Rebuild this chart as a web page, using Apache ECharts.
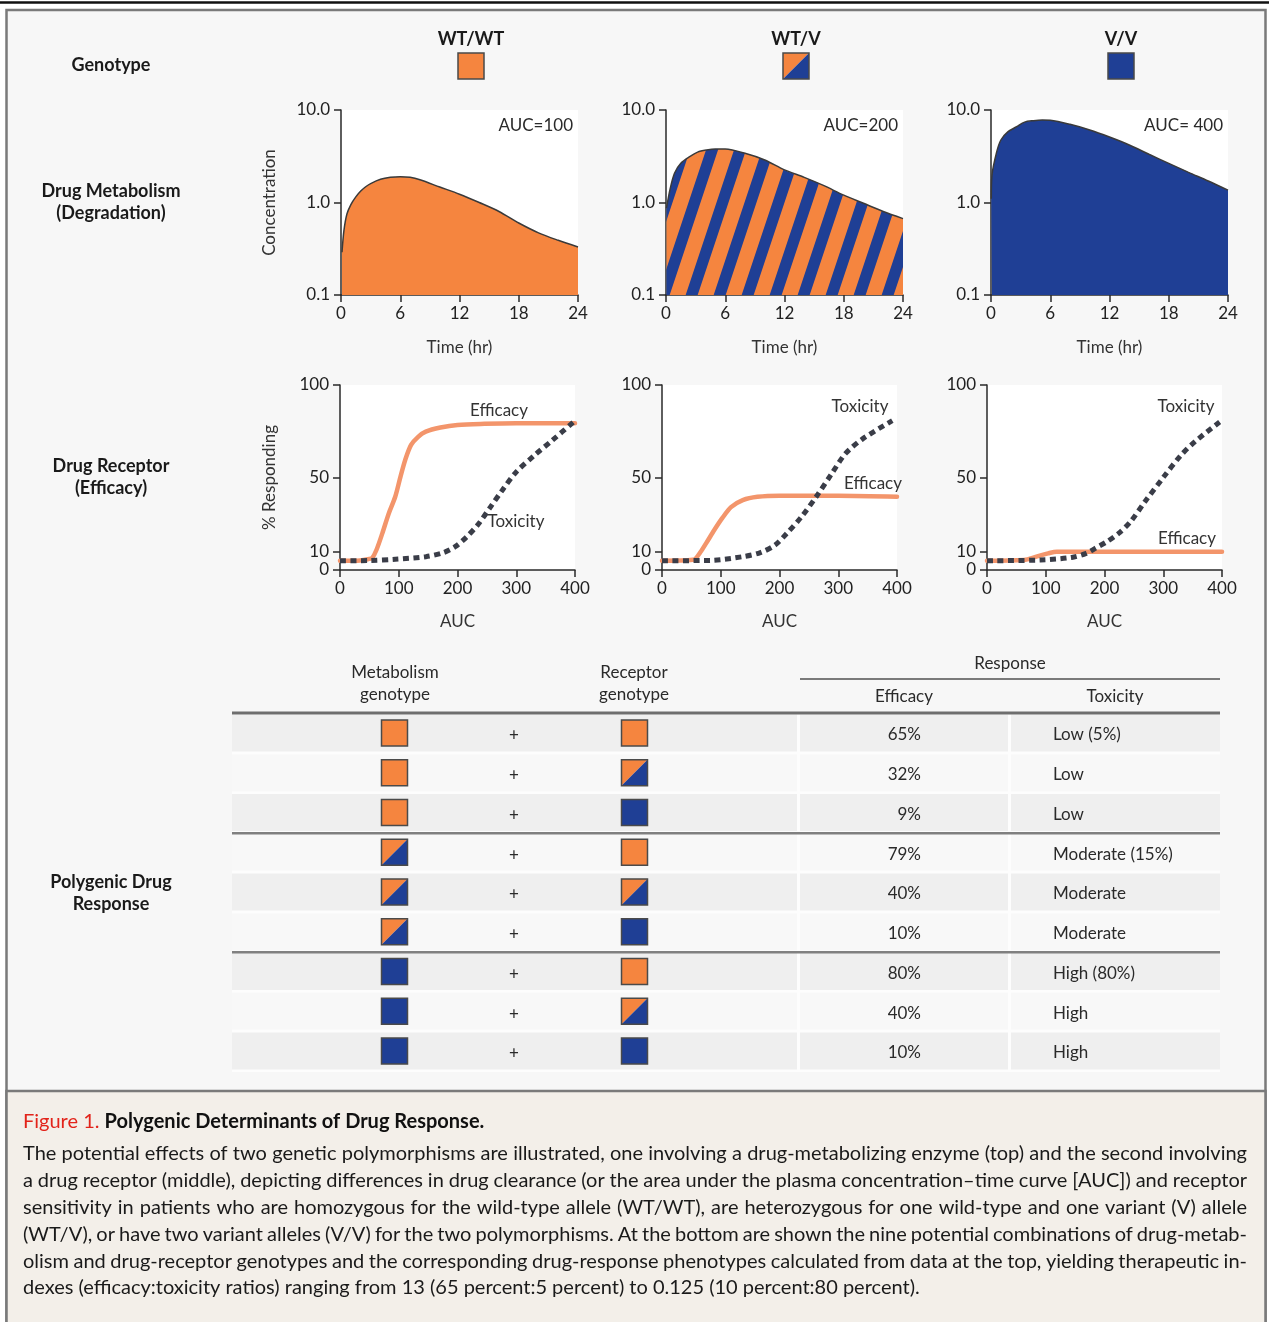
<!DOCTYPE html>
<html><head><meta charset="utf-8">
<script src="https://cdn.jsdelivr.net/npm/echarts@6/dist/echarts.min.js"></script>
<style>html,body{margin:0;padding:0;background:#fff}#c{width:1269px;height:1322px}</style>
</head><body><div id="c"></div>
<script>
// ---------------- DATA ----------------
const genotypes = ['WT/WT', 'WT/V', 'V/V'];
const aucLabels = ['AUC=100', 'AUC=200', 'AUC= 400'];
const rowLabels = ['Genotype', 'Drug Metabolism\n(Degradation)', 'Drug Receptor\n(Efficacy)', 'Polygenic Drug\nResponse'];
const timeTicks = [0, 6, 12, 18, 24];
const aucTicks = [0, 100, 200, 300, 400];
const respTicks = [0, 10, 50, 100];

// concentration vs time (hr), log scale
const concWTWT = [[0.1,0.29],[0.3,0.5],[0.6,0.75],[1,0.95],[1.5,1.15],[2,1.33],[2.5,1.48],[3,1.6],[4,1.78],[5,1.87],[6,1.9],[7,1.87],[8,1.76],[10,1.47],[12,1.23],[14,1.0],[16,0.8],[18,0.6],[20,0.47],[22,0.39],[24,0.33]];
const concWTV  = [[0.05,0.87],[0.43,1.42],[0.86,2.07],[1.5,2.65],[2.4,3.13],[3.2,3.5],[4.1,3.69],[5,3.79],[6,3.78],[8,3.4],[10,2.88],[12,2.25],[14,1.87],[16,1.52],[18,1.2],[20,0.98],[22,0.8],[24,0.67]];
const concVV   = [[0.03,1.1],[0.1,1.98],[0.57,3.5],[1.0,4.74],[1.7,5.8],[2.6,6.6],[3.4,7.4],[4.3,7.67],[5.2,7.8],[6,7.75],[8,7.0],[10,6.08],[12,5.1],[14,4.19],[16,3.32],[18,2.65],[20,2.12],[22,1.71],[24,1.36]];

// % responding vs AUC
const effWTWT = [[0,5],[25,5],[50,6],[55,6.6],[62,10.8],[72,19.8],[83,30.6],[94,39.6],[103,50.5],[111,59.5],[121,67.6],[133,72],[146,74.8],[171,77],[200,78.4],[246,79],[300,79.3],[400,79.3]];
const toxWTWT = [[0,5],[50,5.1],[94,5.8],[146,7.2],[176,9.4],[196,12.6],[216,18],[236,25],[256,34],[276,43],[300,53],[331,62],[361,70],[400,80.7]];
const effWTV  = [[0,5],[53,5.5],[64,9],[75,14.4],[89,21.6],[102.5,28],[117.5,34],[137.5,37.8],[162.5,39.6],[200,40.2],[300,40.2],[400,39.6]];
const toxWTV  = [[0,5],[82,5.2],[137.5,7.2],[167.5,9.4],[192.5,13.5],[212.5,19.8],[237.5,28.8],[262.5,39.6],[287.5,51.4],[312.5,63],[342,71],[392,80.7]];
const effVV   = [[0,5],[63,5.4],[84,7.2],[104,9],[119,9.9],[200,9.9],[400,9.9]];
const toxVV   = [[0,5],[91,5.4],[144,6.8],[169,9],[184,11.7],[204,15.3],[224,19.8],[244,26],[269,37],[300,50],[330,62],[354,69.4],[396,80]];

// table
const tableHeaders = ['Metabolism\ngenotype', 'Receptor\ngenotype', 'Response', 'Efficacy', 'Toxicity'];
const tableMetab = ['WT/WT','WT/WT','WT/WT','WT/V','WT/V','WT/V','V/V','V/V','V/V'];
const tableRecep = ['WT/WT','WT/V','V/V','WT/WT','WT/V','V/V','WT/WT','WT/V','V/V'];
const tableEfficacy = ['65%','32%','9%','79%','40%','10%','80%','40%','10%'];
const tableToxicity = ['Low (5%)','Low','Low','Moderate (15%)','Moderate','Moderate','High (80%)','High','High'];

// caption
const captionLabel = 'Figure 1.';
const captionTitle = 'Polygenic Determinants of Drug Response.';
const captionLines = [
  'The potential effects of two genetic polymorphisms are illustrated, one involving a drug-metabolizing enzyme (top) and the second involving',
  'a drug receptor (middle), depicting differences in drug clearance (or the area under the plasma concentration\u2013time curve [AUC]) and receptor',
  'sensitivity in patients who are homozygous for the wild-type allele (WT/WT), are heterozygous for one wild-type and one variant (V) allele',
  '(WT/V), or have two variant alleles (V/V) for the two polymorphisms. At the bottom are shown the nine potential combinations of drug-metab-',
  'olism and drug-receptor genotypes and the corresponding drug-response phenotypes calculated from data at the top, yielding therapeutic in-',
  'dexes (efficacy:toxicity ratios) ranging from 13 (65 percent:5 percent) to 0.125 (10 percent:80 percent).'
];

// ---------------- STYLE / LAYOUT ----------------
const FONT = 'Lato';
const ORANGE = '#F5853F', BLUE = '#1F3F95';
const EFF_COLOR = '#F3956B', TOX_COLOR = '#3A3D48';
const TXT = '#2a2a2a';
const topGridLeft = [341, 666, 991], topGridW = 237, topGridTop = 110, topGridH = 185;
const midGridLeft = [340, 662, 987], midGridW = 235, midGridTop = 385, midGridH = 185;
const colCenters = [471, 796, 1121];

const mctx = document.createElement('canvas').getContext('2d');
function tw(str, font) { mctx.font = font; return mctx.measureText(str).width; }

function stripePattern() {
  const P = 28, s = 3, H = P * s, B = 12;
  const c = document.createElement('canvas'); c.width = P; c.height = H;
  const g = c.getContext('2d');
  g.fillStyle = ORANGE; g.fillRect(0, 0, P, H);
  g.fillStyle = BLUE;
  for (let k = -2; k <= 2; k++) {
    const x0 = k * P;
    g.beginPath(); g.moveTo(x0, H); g.lineTo(x0 + B, H); g.lineTo(x0 + B + P, 0); g.lineTo(x0 + P, 0); g.closePath(); g.fill();
  }
  return c;
}
const fills = [ORANGE, { image: stripePattern(), repeat: 'repeat' }, BLUE];

function icon(type, cx, cy, s) {
  const x = cx - s / 2, y = cy - s / 2, out = [];
  if (type === 'WT/WT') out.push({ type: 'rect', shape: { x, y, width: s, height: s }, style: { fill: ORANGE } });
  else if (type === 'V/V') out.push({ type: 'rect', shape: { x, y, width: s, height: s }, style: { fill: BLUE } });
  else {
    out.push({ type: 'polygon', shape: { points: [[x, y], [x + s, y], [x, y + s]] }, style: { fill: ORANGE } });
    out.push({ type: 'polygon', shape: { points: [[x + s, y], [x + s, y + s], [x, y + s]] }, style: { fill: BLUE } });
  }
  out.push({ type: 'rect', shape: { x, y, width: s, height: s }, style: { fill: null, stroke: '#4a4a4a', lineWidth: 1.5 } });
  return out;
}
function txt(text, x, y, o) {
  o = o || {};
  return { type: 'text', z: o.z || 5, style: Object.assign({ text, x, y, fill: TXT, fontFamily: FONT, fontSize: 17, fontWeight: 'normal', align: 'center', verticalAlign: 'middle', lineHeight: 22 }, o.style || {}) };
}

// ---------------- GRAPHIC ELEMENTS ----------------
const els = [];
els.push({ type: 'rect', z: -100, shape: { x: 0, y: 0, width: 1269, height: 1322 }, style: { fill: '#ffffff' } });
els.push({ type: 'line', z: -99, shape: { x1: 0, y1: 2.5, x2: 1269, y2: 2.5 }, style: { stroke: '#111', lineWidth: 2.5 } });
els.push({ type: 'rect', z: -99, shape: { x: 6.5, y: 10, width: 1259, height: 1340 }, style: { fill: '#f7f7f7', stroke: '#7a7a7a', lineWidth: 2.5 } });
els.push({ type: 'rect', z: -98, shape: { x: 6.5, y: 1091, width: 1259, height: 260 }, style: { fill: '#f3efe9', stroke: '#7a7a7a', lineWidth: 2.5 } });

// row labels
const rowLabelY = [65, 202, 477.5, 893];
rowLabels.forEach((t, i) => els.push(txt(t, 111, rowLabelY[i], { style: { fontWeight: 'bold', fontSize: 18, lineHeight: 22, fill: '#1a1a1a' } })));

// genotype header
genotypes.forEach((g, i) => {
  els.push(txt(g, colCenters[i], 39, { style: { fontWeight: 'bold', fontSize: 18, fill: '#1a1a1a' } }));
  icon(g, colCenters[i], 66, 26).forEach(e => els.push(e));
});

// AUC labels
aucLabels.forEach((t, i) => els.push(txt(t, topGridLeft[i] + topGridW - 5, 126, { style: { align: 'right' } })));

// curve labels
const curveLabels = [
  ['Efficacy', 499, 411], ['Toxicity', 516, 522],
  ['Toxicity', 860, 407], ['Efficacy', 873, 484],
  ['Toxicity', 1186, 407], ['Efficacy', 1187, 539]
];
curveLabels.forEach(c => els.push(txt(c[0], c[1], c[2], { style: { fill: '#333' } })));

// table
const tL = 232, tR = 1220, colB = 799, colC = 1010;
els.push(txt(tableHeaders[0], 395, 684));
els.push(txt(tableHeaders[1], 634, 684));
els.push(txt(tableHeaders[2], 1010, 664));
els.push(txt(tableHeaders[3], 904, 697));
els.push(txt(tableHeaders[4], 1115, 697));
els.push({ type: 'line', shape: { x1: 800, y1: 679, x2: tR, y2: 679 }, style: { stroke: '#7a7a7a', lineWidth: 2 } });
els.push({ type: 'rect', z: -50, shape: { x: tL, y: 714, width: tR - tL, height: 358 }, style: { fill: '#fdfdfd' } });
const rowPitch = 39.75, rowTop0 = 714.5, rowH = 37;
tableMetab.forEach((m, i) => {
  const top = rowTop0 + i * rowPitch, cy = top + rowH / 2;
  const bg = i % 2 === 0 ? '#efefef' : '#f8f8f8';
  els.push({ type: 'rect', z: -40, shape: { x: tL, y: top, width: colB - 2 - tL, height: rowH }, style: { fill: bg } });
  els.push({ type: 'rect', z: -40, shape: { x: colB + 1, y: top, width: colC - 2 - colB - 1, height: rowH }, style: { fill: bg } });
  els.push({ type: 'rect', z: -40, shape: { x: colC + 1, y: top, width: tR - colC - 1, height: rowH }, style: { fill: bg } });
  icon(m, 394.5, cy, 26).forEach(e => els.push(e));
  icon(tableRecep[i], 634.5, cy, 26).forEach(e => els.push(e));
  els.push(txt('+', 514, cy + 3));
  els.push(txt(tableEfficacy[i], 921, cy + 2, { style: { align: 'right' } }));
  els.push(txt(tableToxicity[i], 1053, cy + 2, { style: { align: 'left' } }));
});
els.push({ type: 'line', shape: { x1: tL, y1: 713, x2: tR, y2: 713 }, style: { stroke: '#6e6e6e', lineWidth: 3 } });
[833.3, 952.3].forEach(y => els.push({ type: 'line', shape: { x1: tL, y1: y, x2: tR, y2: y }, style: { stroke: '#808080', lineWidth: 2.5 } }));

// caption
const capFont = '20px ' + FONT, capBold = 'bold 20px ' + FONT;
els.push(txt(captionLabel, 23, 1122, { style: { align: 'left', fill: '#e2231a', fontSize: 20 } }));
const labW = tw(captionLabel + ' ', capFont);
els.push(txt(captionTitle, 23 + labW, 1122, { style: { align: 'left', fontWeight: 'bold', fontSize: 20, fill: '#111' } }));
const capX0 = 23, capX1 = 1247, capY0 = 1154, capDY = 26.8;
captionLines.forEach((line, li) => {
  const y = capY0 + li * capDY;
  if (li === captionLines.length - 1) {
    els.push(txt(line, capX0, y, { style: { align: 'left', fontSize: 20, fill: '#1a1a1a' } }));
    return;
  }
  const words = line.split(' ');
  const ws = words.map(w => tw(w, capFont));
  const gap = (capX1 - capX0 - ws.reduce((a, b) => a + b, 0)) / (words.length - 1);
  let x = capX0;
  words.forEach((w, k) => {
    els.push(txt(w, x, y, { style: { align: 'left', fontSize: 20, fill: '#1a1a1a' } }));
    x += ws[k] + gap;
  });
});

// ---------------- AXES / SERIES ----------------
const axisLineStyle = { show: true, lineStyle: { color: '#2a2a2a', width: 1.5 } };
const tickStyle = { show: true, length: 7, lineStyle: { color: '#2a2a2a', width: 1.5 } };
const labelStyle = { fontFamily: FONT, fontSize: 17, color: '#222' };
const grids = [], xAxes = [], yAxes = [], series = [];
const concSets = [concWTWT, concWTV, concVV];
const respSets = [[effWTWT, toxWTWT], [effWTV, toxWTV], [effVV, toxVV]];

for (let i = 0; i < 3; i++) {
  grids.push({ left: topGridLeft[i], top: topGridTop, width: topGridW, height: topGridH, show: true, backgroundColor: '#ffffff', borderWidth: 0 });
  xAxes.push({ type: 'value', gridIndex: i, min: timeTicks[0], max: timeTicks[timeTicks.length - 1], interval: 6,
    axisLine: axisLineStyle, axisTick: tickStyle, splitLine: { show: false },
    axisLabel: Object.assign({ margin: 10 }, labelStyle),
    name: 'Time (hr)', nameLocation: 'middle', nameGap: 44, nameTextStyle: Object.assign({}, labelStyle, { color: '#333' }) });
  yAxes.push({ type: 'log', logBase: 10, gridIndex: i, min: 0.1, max: 10,
    axisLine: axisLineStyle, axisTick: tickStyle, splitLine: { show: false }, minorTick: { show: false },
    axisLabel: Object.assign({ margin: 11, formatter: v => Number(v).toFixed(1) }, labelStyle),
    name: i === 0 ? 'Concentration' : '', nameLocation: 'middle', nameRotate: 90, nameGap: 63,
    nameTextStyle: Object.assign({}, labelStyle, { color: '#333' }) });
  series.push({ type: 'line', xAxisIndex: i, yAxisIndex: i, data: concSets[i], smooth: 0.3,
    showSymbol: false, silent: true, lineStyle: { color: '#3a3a3a', width: 1.5 },
    areaStyle: { color: fills[i], opacity: 1, origin: 'start' }, z: 3 });
}
for (let i = 0; i < 3; i++) {
  const gi = 3 + i;
  grids.push({ left: midGridLeft[i], top: midGridTop, width: midGridW, height: midGridH, show: true, backgroundColor: '#ffffff', borderWidth: 0 });
  xAxes.push({ type: 'value', gridIndex: gi, min: aucTicks[0], max: aucTicks[aucTicks.length - 1], interval: 100,
    axisLine: axisLineStyle, axisTick: tickStyle, splitLine: { show: false },
    axisLabel: Object.assign({ margin: 10 }, labelStyle),
    name: 'AUC', nameLocation: 'middle', nameGap: 43, nameTextStyle: Object.assign({}, labelStyle, { color: '#333' }) });
  yAxes.push({ type: 'value', gridIndex: gi, min: 0, max: 100,
    axisLine: axisLineStyle, axisTick: Object.assign({ customValues: respTicks }, tickStyle), splitLine: { show: false },
    axisLabel: Object.assign({ margin: 11, customValues: respTicks }, labelStyle),
    name: i === 0 ? '% Responding' : '', nameLocation: 'middle', nameRotate: 90, nameGap: 62,
    nameTextStyle: Object.assign({}, labelStyle, { color: '#333' }) });
  series.push({ type: 'line', xAxisIndex: gi, yAxisIndex: gi, data: respSets[i][0], smooth: 0.3,
    showSymbol: false, silent: true, lineStyle: { color: EFF_COLOR, width: 4.5, cap: 'round', join: 'round' }, z: 3 });
  series.push({ type: 'line', xAxisIndex: gi, yAxisIndex: gi, data: respSets[i][1], smooth: 0.3,
    showSymbol: false, silent: true, lineStyle: { color: TOX_COLOR, width: 5, type: [6, 4.5], cap: 'butt' }, z: 4 });
}

const chart = echarts.init(document.getElementById('c'));
chart.setOption({
  animation: false,
  backgroundColor: '#ffffff',
  textStyle: { fontFamily: FONT },
  grid: grids, xAxis: xAxes, yAxis: yAxes, series: series,
  graphic: { elements: els }
});
</script></body></html>
